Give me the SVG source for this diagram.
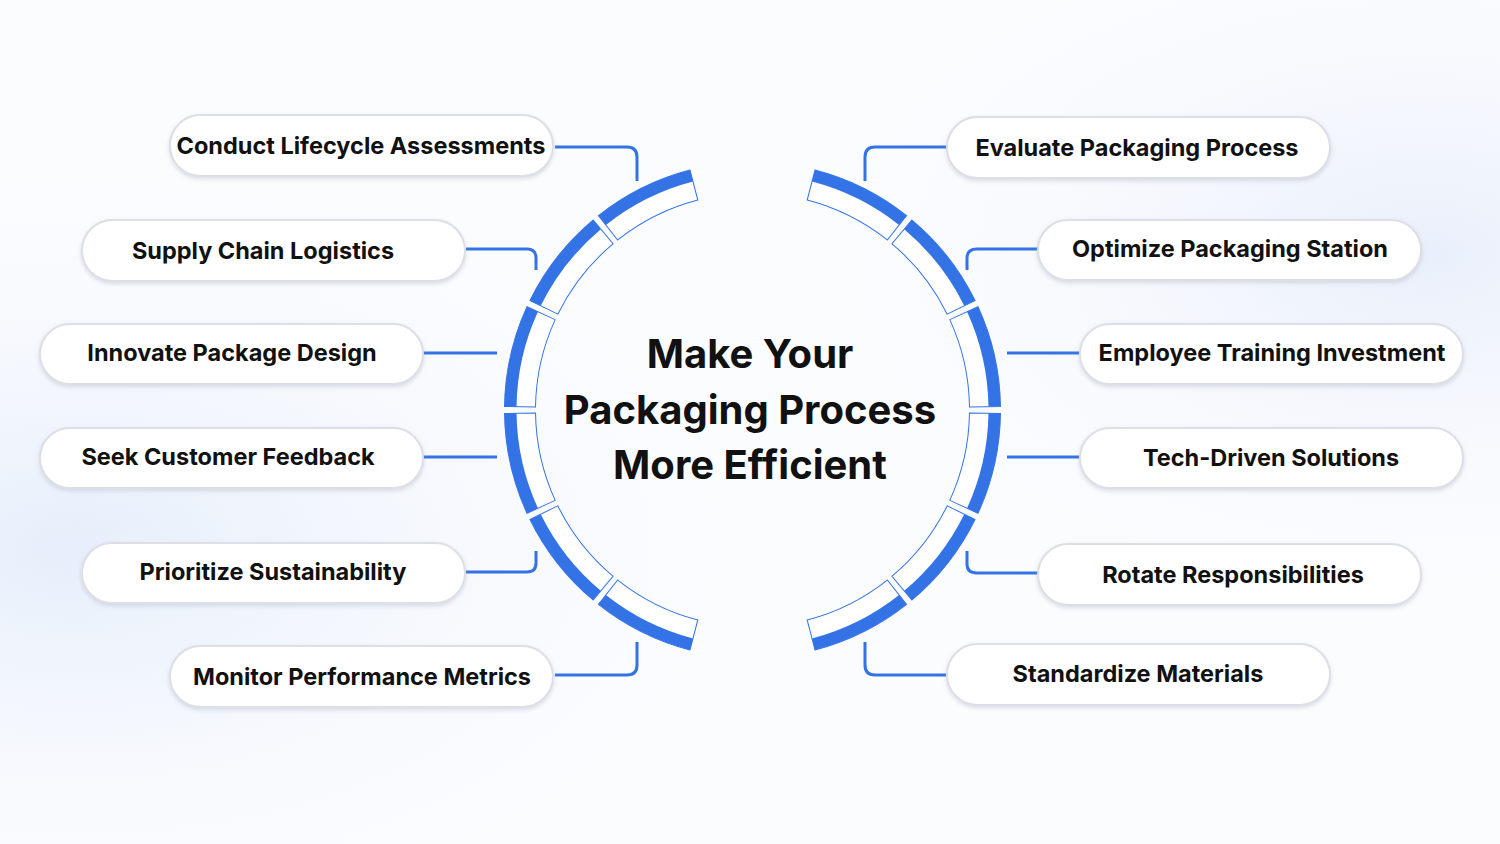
<svg xmlns="http://www.w3.org/2000/svg" width="1500" height="844" viewBox="0 0 1500 844">
<defs>
<radialGradient id="bg1" cx="0.05" cy="0.65" r="0.45"><stop offset="0" stop-color="#e6eefb"/><stop offset="1" stop-color="#f7f9fd" stop-opacity="0"/></radialGradient>
<radialGradient id="bg2" cx="0.95" cy="0.3" r="0.4"><stop offset="0" stop-color="#e9effb"/><stop offset="1" stop-color="#f7f9fd" stop-opacity="0"/></radialGradient>
<filter id="sh" x="-10%" y="-30%" width="120%" height="160%"><feDropShadow dx="0" dy="2" stdDeviation="2" flood-color="#9aa3b5" flood-opacity="0.35"/></filter>
<g id="seg">
<path d="M509.83,358.86 A248,248 0 0 0 509.83,461.14 L540.16,454.75 A217,217 0 0 1 540.16,365.25 Z" fill="#fff" stroke="#3473e6" stroke-width="1"/>
<path d="M509.83,358.86 A248,248 0 0 0 509.83,461.14 L521.57,458.66 A236,236 0 0 1 521.57,361.34 Z" fill="#3473e6"/>
</g>
</defs>
<style>
.pill{fill:#fff;stroke:#dcdfe5;stroke-width:2;filter:url(#sh)}
.lbl{font-family:Inter,"Noto Sans","Liberation Sans",sans-serif;font-weight:700;font-size:23.5px;fill:#111;text-anchor:middle;dominant-baseline:central}
.ttl{font-family:Inter,"Noto Sans","Liberation Sans",sans-serif;font-weight:700;font-size:40px;fill:#111;text-anchor:middle;dominant-baseline:central}
.con{fill:none;stroke:#3473e6;stroke-width:3;stroke-linejoin:round}
</style>
<rect width="1500" height="844" fill="#fbfcfe"/>
<rect width="1500" height="844" fill="url(#bg1)"/>
<rect width="1500" height="844" fill="url(#bg2)"/>
<g id="ring">
<use href="#seg" transform="rotate(-63.5 752.5 410)"/>
<use href="#seg" transform="rotate(-38.1 752.5 410)"/>
<use href="#seg" transform="rotate(-12.7 752.5 410)"/>
<use href="#seg" transform="rotate(12.7 752.5 410)"/>
<use href="#seg" transform="rotate(38.1 752.5 410)"/>
<use href="#seg" transform="rotate(63.5 752.5 410)"/>
<g transform="translate(1505,0) scale(-1,1)">
<use href="#seg" transform="rotate(-63.5 752.5 410)"/>
<use href="#seg" transform="rotate(-38.1 752.5 410)"/>
<use href="#seg" transform="rotate(-12.7 752.5 410)"/>
<use href="#seg" transform="rotate(12.7 752.5 410)"/>
<use href="#seg" transform="rotate(38.1 752.5 410)"/>
<use href="#seg" transform="rotate(63.5 752.5 410)"/>
</g>
</g>
<g id="connectors">
<path class="con" d="M555,147 H627 Q637,147 637,157 V181"/>
<path class="con" d="M466,249 H527 Q536,249 536,258 V270"/>
<path class="con" d="M423,353 H497"/>
<path class="con" d="M423,457 H497"/>
<path class="con" d="M466,572 H527 Q536,572 536,563 V551"/>
<path class="con" d="M555,675 H627 Q637,675 637,665 V642"/>
<path class="con" d="M946,147 H875 Q865,147 865,157 V181"/>
<path class="con" d="M1038,249 H977 Q967,249 967,258 V270"/>
<path class="con" d="M1007,353 H1080"/>
<path class="con" d="M1007,457 H1080"/>
<path class="con" d="M1038,573 H977 Q967,573 967,564 V551"/>
<path class="con" d="M946,675 H875 Q865,675 865,665 V642"/>
</g>
<g id="title"><text class="ttl" x="750" y="353">Make Your</text><text class="ttl" x="750" y="409">Packaging Process</text><text class="ttl" x="750" y="464">More Efficient</text></g>
<g id="n1"><rect class="pill" x="170" y="115" width="383" height="61" rx="30.5"/><text class="lbl" x="361" y="145">Conduct Lifecycle Assessments</text></g>
<g id="n2"><rect class="pill" x="82" y="220" width="383" height="61" rx="30.5"/><text class="lbl" x="263" y="250">Supply Chain Logistics</text></g>
<g id="n3"><rect class="pill" x="40" y="324" width="383" height="60" rx="30"/><text class="lbl" x="232" y="352">Innovate Package Design</text></g>
<g id="n4"><rect class="pill" x="40" y="428" width="383" height="60" rx="30"/><text class="lbl" x="228" y="456">Seek Customer Feedback</text></g>
<g id="n5"><rect class="pill" x="82" y="543" width="383" height="60" rx="30"/><text class="lbl" x="273" y="571">Prioritize Sustainability</text></g>
<g id="n6"><rect class="pill" x="170" y="646" width="383" height="61" rx="30.5"/><text class="lbl" x="362" y="676">Monitor Performance Metrics</text></g>
<g id="n7"><rect class="pill" x="947" y="117" width="383" height="61" rx="30.5"/><text class="lbl" x="1137" y="147">Evaluate Packaging Process</text></g>
<g id="n8"><rect class="pill" x="1038" y="220" width="383" height="60" rx="30"/><text class="lbl" x="1230" y="248">Optimize Packaging Station</text></g>
<g id="n9"><rect class="pill" x="1080" y="324" width="383" height="60" rx="30"/><text class="lbl" x="1272" y="352">Employee Training Investment</text></g>
<g id="n10"><rect class="pill" x="1080" y="428" width="383" height="60" rx="30"/><text class="lbl" x="1271" y="457">Tech-Driven Solutions</text></g>
<g id="n11"><rect class="pill" x="1038" y="544" width="383" height="61" rx="30.5"/><text class="lbl" x="1233" y="574">Rotate Responsibilities</text></g>
<g id="n12"><rect class="pill" x="947" y="644" width="383" height="61" rx="30.5"/><text class="lbl" x="1138" y="673">Standardize Materials</text></g>
</svg>
